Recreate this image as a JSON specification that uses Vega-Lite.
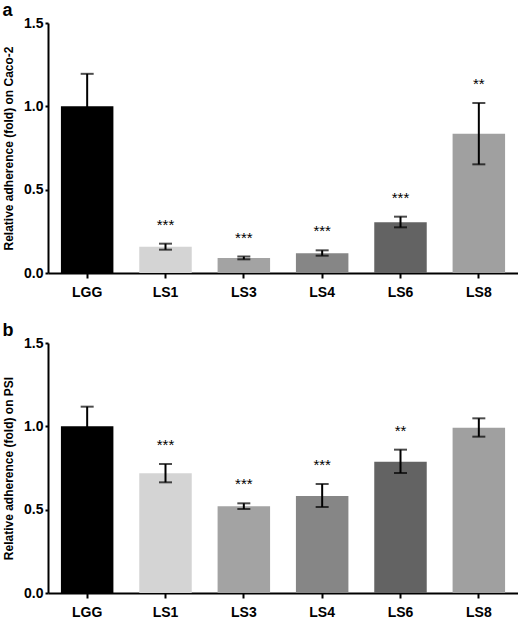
{
  "$schema": "https://vega.github.io/schema/vega-lite/v6.json",
  "background": "white",
  "padding": {"left": 2, "top": 2, "right": 0, "bottom": 0},
  "datasets": {
    "caco": [
      {"strain": "LGG", "mean": 1.0, "lo": 0.81, "hi": 1.195, "sig": ""},
      {"strain": "LS1", "mean": 0.157, "lo": 0.14, "hi": 0.176, "sig": "***"},
      {"strain": "LS3", "mean": 0.09, "lo": 0.082, "hi": 0.099, "sig": "***"},
      {"strain": "LS4", "mean": 0.118, "lo": 0.104, "hi": 0.136, "sig": "***"},
      {"strain": "LS6", "mean": 0.305, "lo": 0.274, "hi": 0.338, "sig": "***"},
      {"strain": "LS8", "mean": 0.836, "lo": 0.652, "hi": 1.02, "sig": "**"}
    ],
    "psi": [
      {"strain": "LGG", "mean": 1.0, "lo": 0.88, "hi": 1.118, "sig": ""},
      {"strain": "LS1", "mean": 0.718, "lo": 0.664, "hi": 0.774, "sig": "***"},
      {"strain": "LS3", "mean": 0.52, "lo": 0.504, "hi": 0.538, "sig": "***"},
      {"strain": "LS4", "mean": 0.582, "lo": 0.516, "hi": 0.654, "sig": "***"},
      {"strain": "LS6", "mean": 0.788, "lo": 0.72, "hi": 0.86, "sig": "**"},
      {"strain": "LS8", "mean": 0.992, "lo": 0.938, "hi": 1.048, "sig": ""}
    ]
  },
  "spacing": 23,
  "vconcat": [
    {
      "data": {"name": "caco"},
      "width": 470,
      "height": 250,
      "title": {"text": "a", "anchor": "start", "offset": -4},
      "encoding": {
        "x": {"field": "strain", "type": "nominal", "sort": null, "scale": {"paddingInner": 0.33, "paddingOuter": 0.165}, "axis": {"title": null, "labelAngle": 0}}
      },
      "layer": [
        {"mark": {"type": "bar"}, "encoding": {
          "y": {"field": "mean", "type": "quantitative", "scale": {"domain": [0, 1.5], "nice": false}, "axis": {"title": "Relative adherence (fold) on Caco-2", "values": [0, 0.5, 1, 1.5], "format": ".1f"}},
          "color": {"field": "strain", "type": "nominal", "scale": {"domain": ["LGG", "LS1", "LS3", "LS4", "LS6", "LS8"], "range": ["#000000", "#d4d4d4", "#a3a3a3", "#868686", "#636363", "#a0a0a0"]}, "legend": null}
        }},
        {"mark": {"type": "rule", "color": "black", "strokeWidth": 2}, "encoding": {"y": {"field": "lo", "type": "quantitative"}, "y2": {"field": "hi"}}},
        {"mark": {"type": "tick", "color": "black", "thickness": 2, "size": 13, "orient": "horizontal"}, "encoding": {"y": {"field": "lo", "type": "quantitative"}}},
        {"mark": {"type": "tick", "color": "black", "thickness": 2, "size": 13, "orient": "horizontal"}, "encoding": {"y": {"field": "hi", "type": "quantitative"}}},
        {"mark": {"type": "text", "font": "Liberation Sans", "fontSize": 15, "baseline": "middle", "dy": -19, "color": "black"}, "encoding": {"y": {"field": "hi", "type": "quantitative"}, "text": {"field": "sig"}}}
      ]
    },
    {
      "data": {"name": "psi"},
      "width": 470,
      "height": 250,
      "title": {"text": "b", "anchor": "start", "offset": -4},
      "encoding": {
        "x": {"field": "strain", "type": "nominal", "sort": null, "scale": {"paddingInner": 0.33, "paddingOuter": 0.165}, "axis": {"title": null, "labelAngle": 0}}
      },
      "layer": [
        {"mark": {"type": "bar"}, "encoding": {
          "y": {"field": "mean", "type": "quantitative", "scale": {"domain": [0, 1.5], "nice": false}, "axis": {"title": "Relative adherence (fold) on PSI", "values": [0, 0.5, 1, 1.5], "format": ".1f"}},
          "color": {"field": "strain", "type": "nominal", "scale": {"domain": ["LGG", "LS1", "LS3", "LS4", "LS6", "LS8"], "range": ["#000000", "#d4d4d4", "#a3a3a3", "#868686", "#636363", "#a0a0a0"]}, "legend": null}
        }},
        {"mark": {"type": "rule", "color": "black", "strokeWidth": 2}, "encoding": {"y": {"field": "lo", "type": "quantitative"}, "y2": {"field": "hi"}}},
        {"mark": {"type": "tick", "color": "black", "thickness": 2, "size": 13, "orient": "horizontal"}, "encoding": {"y": {"field": "lo", "type": "quantitative"}}},
        {"mark": {"type": "tick", "color": "black", "thickness": 2, "size": 13, "orient": "horizontal"}, "encoding": {"y": {"field": "hi", "type": "quantitative"}}},
        {"mark": {"type": "text", "font": "Liberation Sans", "fontSize": 15, "baseline": "middle", "dy": -19, "color": "black"}, "encoding": {"y": {"field": "hi", "type": "quantitative"}, "text": {"field": "sig"}}}
      ]
    }
  ],
  "config": {
    "view": {"stroke": null},
    "font": "Liberation Sans",
    "title": {"font": "Liberation Sans", "fontSize": 18, "fontWeight": "bold", "color": "black"},
    "axis": {
      "grid": false,
      "domainColor": "black",
      "domainWidth": 2,
      "tickColor": "black",
      "tickWidth": 2,
      "labelColor": "black",
      "labelFont": "Liberation Sans",
      "labelFontWeight": "bold",
      "labelFontSize": 14,
      "labelPadding": 2,
      "titleColor": "black",
      "titleFont": "Liberation Sans",
      "titleFontWeight": "bold",
      "titleFontSize": 12,
      "titlePadding": 8
    },
    "axisX": {"tickSize": 5, "labelPadding": 7},
    "axisY": {"tickSize": 3}
  }
}
